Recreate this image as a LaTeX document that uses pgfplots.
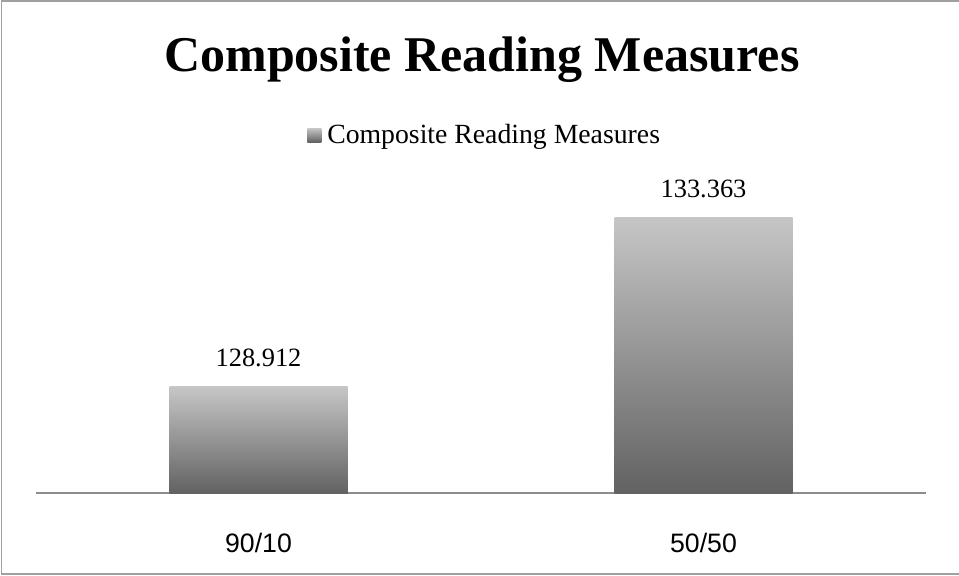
\documentclass[border=0pt]{standalone}
\usepackage{pgfplots}
\pgfplotsset{compat=1.18}
\usepackage{fontspec}
\setmainfont{Liberation Serif}
\newfontfamily\sansf{Liberation Sans}
\definecolor{bartop}{HTML}{C6C6C6}
\definecolor{barbot}{HTML}{626262}
\definecolor{framegray}{HTML}{A0A0A0}
\definecolor{axisgray}{HTML}{8C8C8C}
\begin{document}
\begin{tikzpicture}[x=0.75pt,y=0.75pt]
\path[use as bounding box] (0,0) rectangle (959,575);
\draw[framegray, line width=1.2pt] (959,574.2) -- (1.5,574.2) -- (1.5,1) -- (959,1);
\node[anchor=base, font=\fontsize{37.5}{40}\selectfont\bfseries] at (482,503) {Composite Reading Measures};
\begin{axis}[
  at={(36pt*0.75,82pt*0.75)}, anchor=south west,
  scale only axis, width=667.5pt, height=227.85pt,
  xmin=-0.5, xmax=1.5, ymin=0, ymax=8,
  y filter/.expression={y-126.1},
  axis x line=bottom, axis y line=none,
  axis line style={-, draw=axisgray, line width=1.5pt},
  xtick={0,1}, xticklabels={90/10,50/50},
  xtick style={draw=none},
  xticklabel style={font=\sansf\fontsize{20}{24}\selectfont, anchor=base, yshift=-40.5pt},
  ybar, bar width=133.5pt, bar shift=0pt,
  clip=false,
  point meta=explicit symbolic,
  nodes near coords,
  nodes near coords style={font=\fontsize{19.8}{24}\selectfont, anchor=base, yshift=15pt},
  legend style={draw=none, fill=none, at={(0.5045,1.178)}, anchor=center,
    font=\fontsize{20.8}{24}\selectfont,
    /tikz/every odd column/.append style={column sep=2.5pt}},
  legend image code/.code={\shade[top color=bartop, bottom color=barbot] (0pt,-5.25pt) rectangle (10.5pt,5.25pt);},
]
\addplot[draw=none, top color=bartop, bottom color=barbot] coordinates {(0,128.912) [128.912]};
\addlegendentry{Composite Reading Measures}
\addplot[draw=none, top color=bartop, bottom color=barbot, forget plot] coordinates {(1,133.363) [133.363]};
\end{axis}
\end{tikzpicture}
\end{document}
